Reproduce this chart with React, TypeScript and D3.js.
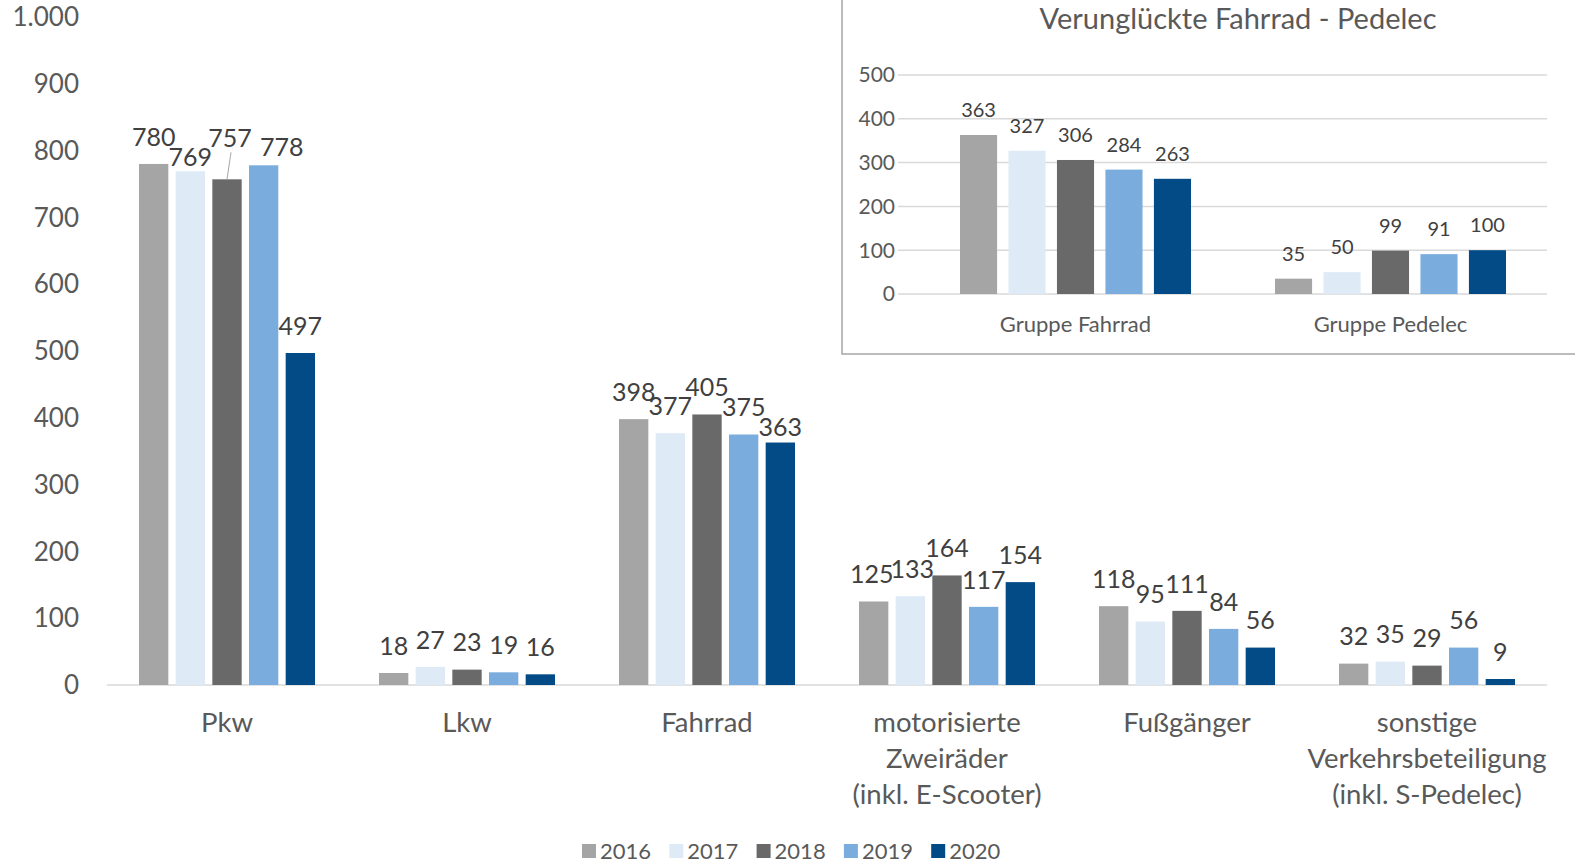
import React from "react";
import * as d3 from "d3";

const categories = [
  ["Pkw"],
  ["Lkw"],
  ["Fahrrad"],
  ["motorisierte", "Zweiräder", "(inkl. E-Scooter)"],
  ["Fußgänger"],
  ["sonstige", "Verkehrsbeteiligung", "(inkl. S-Pedelec)"],
];
const years = ["2016", "2017", "2018", "2019", "2020"];
const values2016 = [780, 18, 398, 125, 118, 32];
const values2017 = [769, 27, 377, 133, 95, 35];
const values2018 = [757, 23, 405, 164, 111, 29];
const values2019 = [778, 19, 375, 117, 84, 56];
const values2020 = [497, 16, 363, 154, 56, 9];
const yTicks = [0, 100, 200, 300, 400, 500, 600, 700, 800, 900, 1000];

const insetCategories = ["Gruppe Fahrrad", "Gruppe Pedelec"];
const insetFahrrad = [363, 327, 306, 284, 263];
const insetPedelec = [35, 50, 99, 91, 100];
const insetTicks = [0, 100, 200, 300, 400, 500];

const colors = ["#a5a5a5", "#deebf7", "#696969", "#7aaddd", "#024b86"];
const FONT = "Lato, 'Open Sans', sans-serif";

// label nudges where Excel moved overlapping labels: key = cat-year
const labelNudge: Record<string, [number, number]> = {
  "0-1": [0, 13],
  "0-2": [3, -14],
  "0-3": [18, 9],
  "2-4": [0, 12],
  "3-0": [-2, 0],
  "3-1": [2, 0],
};

const series = [values2016, values2017, values2018, values2019, values2020];

export default function App() {
  const W = 1575;
  const H = 863;

  const x = d3.scaleBand<number>().domain(d3.range(categories.length)).range([107, 1547]).paddingInner(0).paddingOuter(0);
  const xs = d3.scaleBand<number>().domain(d3.range(years.length)).range([32, 208]).paddingInner(0.2).paddingOuter(0);
  const y = d3.scaleLinear().domain([0, 1000]).range([685, 17]);

  const ix = d3.scaleBand<number>().domain([0, 1]).range([918, 1548]);
  const ixs = d3.scaleBand<number>().domain(d3.range(years.length)).range([42, 273]).paddingInner(0.235).paddingOuter(0);
  const iy = d3.scaleLinear().domain([0, 500]).range([294, 75]);
  const insetSeries = [insetFahrrad, insetPedelec];

  return (
    <svg width={W} height={H} style={{ position: "absolute", left: 0, top: 0 }} fontFamily={FONT}>
      <rect width={W} height={H} fill="#fff" />
      {/* main axis */}
      {yTicks.map((t) => (
        <text key={t} x={79} y={y(t)} dy="0.35em" textAnchor="end" fontSize={26} fill="#595959">
          {d3.format(",")(t).replace(/,/g, ".")}
        </text>
      ))}
      <line x1={107} x2={1547} y1={y(0)} y2={y(0)} stroke="#d9d9d9" strokeWidth={1.5} />
      {categories.map((lines, ci) => (
        <g key={ci}>
          {series.map((vals, si) => {
            const bx = (x(ci) ?? 0) + (xs(si) ?? 0);
            const v = vals[ci];
            const nudge = labelNudge[`${ci}-${si}`] || [0, 0];
            const cx = bx + xs.bandwidth() / 2;
            const top = y(v);
            return (
              <g key={si}>
                <rect x={bx} y={top} width={xs.bandwidth()} height={y(0) - top} fill={colors[si]} />
                {nudge[1] < 0 && (
                  <line x1={cx + nudge[0] + 1} y1={top - 27 + nudge[1] + 14} x2={cx} y2={top} stroke="#a6a6a6" strokeWidth={1} />
                )}
                <text x={cx + nudge[0]} y={top - 27 + nudge[1]} dy="0.35em" textAnchor="middle" fontSize={25} fill="#404040">
                  {v}
                </text>
              </g>
            );
          })}
          {lines.map((l, li) => (
            <text key={li} x={(x(ci) ?? 0) + x.bandwidth() / 2} y={722 + li * 36} dy="0.35em" textAnchor="middle" fontSize={27.5} fill="#595959">
              {l}
            </text>
          ))}
        </g>
      ))}
      {/* legend */}
      {years.map((yr, i) => (
        <g key={yr} transform={`translate(${582 + i * 87.3},0)`}>
          <rect x={0} y={844} width={14} height={14} fill={colors[i]} />
          <text x={18} y={851} dy="0.35em" fontSize={22} fill="#595959">
            {yr}
          </text>
        </g>
      ))}
      {/* inset */}
      <rect x={842} y={-2} width={760} height={356} fill="#fff" stroke="#a6a6a6" strokeWidth={1.5} />
      <text x={1238} y={19} dy="0.35em" textAnchor="middle" fontSize={29} fill="#595959">
        Verunglückte Fahrrad - Pedelec
      </text>
      {insetTicks.map((t) => (
        <g key={t}>
          <line x1={898} x2={1547} y1={iy(t)} y2={iy(t)} stroke="#d9d9d9" strokeWidth={1.5} />
          <text x={895} y={iy(t)} dy="0.35em" textAnchor="end" fontSize={21} fill="#595959">
            {t}
          </text>
        </g>
      ))}
      {insetSeries.map((vals, gi) => (
        <g key={gi}>
          {vals.map((v, si) => {
            const bx = (ix(gi) ?? 0) + (ixs(si) ?? 0);
            const top = iy(v);
            return (
              <g key={si}>
                <rect x={bx} y={top} width={ixs.bandwidth()} height={iy(0) - top} fill={colors[si]} />
                <text x={bx + ixs.bandwidth() / 2} y={top - 25} dy="0.35em" textAnchor="middle" fontSize={20} fill="#404040">
                  {v}
                </text>
              </g>
            );
          })}
          <text x={(ix(gi) ?? 0) + ix.bandwidth() / 2} y={324} dy="0.35em" textAnchor="middle" fontSize={22} fill="#595959">
            {insetCategories[gi]}
          </text>
        </g>
      ))}
    </svg>
  );
}
